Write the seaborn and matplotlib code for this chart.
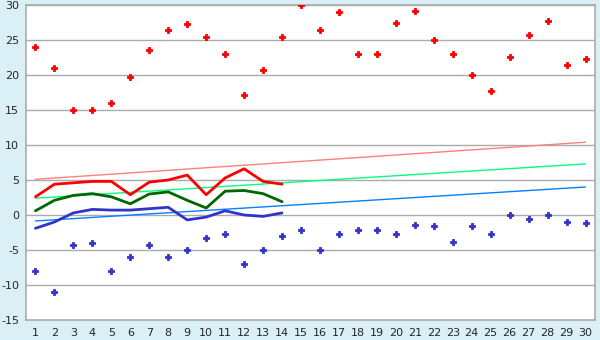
import numpy as np
import pandas as pd
import matplotlib
matplotlib.use("Agg")
import matplotlib.pyplot as plt
import seaborn as sns

days = list(range(1, 31))
max_temp = [24.0, 21.0, 15.0, 15.0, 16.0, 19.7, 23.6, 26.4, 27.3, 25.4,
            23.0, 17.1, 20.7, 25.4, 30.0, 26.5, 29.0, 23.0, 23.0, 27.4,
            29.2, 25.0, 23.0, 20.0, 17.7, 22.6, 25.7, 27.7, 21.4, 22.3]
min_temp = [-8.0, -11.0, -4.3, -4.0, -8.0, -6.0, -4.3, -6.0, -5.0, -3.3,
            -2.7, -7.0, -5.0, -3.0, -2.1, -5.0, -2.7, -2.1, -2.1, -2.7,
            -1.4, -1.6, -3.9, -1.6, -2.7, 0.0, -0.6, 0.0, -1.0, -1.1]
avg_days = list(range(1, 15))
avg_max = [2.6, 4.4, 4.6, 4.8, 4.8, 2.9, 4.7, 5.0, 5.7, 2.9, 5.3, 6.6, 4.8, 4.4]
avg_mean = [0.6, 2.1, 2.8, 3.05, 2.6, 1.6, 3.0, 3.3, 2.1, 1.0, 3.4, 3.5, 3.05, 1.9]
avg_min = [-1.9, -1.0, 0.3, 0.8, 0.7, 0.7, 0.9, 1.1, -0.7, -0.3, 0.6, 0.0, -0.2, 0.3]
trend_days = [1, 30]
trend_max = [5.1, 10.4]
trend_mean = [2.4, 7.3]
trend_min = [-0.85, 4.0]
y_ticks = [-15, -10, -5, 0, 5, 10, 15, 20, 25, 30]

sns.set_style("white")
plt.rcParams['font.family'] = ['DejaVu Sans']
plt.rcParams['axes.unicode_minus'] = False

fig = plt.figure(figsize=(6, 3.4), dpi=100)
fig.patch.set_facecolor('#DAEFF6')
ax = fig.add_axes([26/600, 1-320/340, (595-26)/600, (320-5)/340])
ax.set_facecolor('white')

for y in y_ticks:
    ax.axhline(y, color='#ABABAB', lw=1, zorder=0)

sns.lineplot(x=trend_days, y=trend_max, ax=ax, color='#FF8080', lw=1)
sns.lineplot(x=trend_days, y=trend_mean, ax=ax, color='#00FF80', lw=1)
sns.lineplot(x=trend_days, y=trend_min, ax=ax, color='#0080FF', lw=1)

sns.lineplot(x=avg_days, y=avg_max, ax=ax, color='#FF0000', lw=2)
sns.lineplot(x=avg_days, y=avg_mean, ax=ax, color='#006600', lw=2)
sns.lineplot(x=avg_days, y=avg_min, ax=ax, color='#3333CC', lw=2)

sns.scatterplot(x=days, y=max_temp, ax=ax, color='#FF0000', marker='P', s=20,
                edgecolor='#FF0000', linewidth=0.6, zorder=5)
sns.scatterplot(x=days, y=min_temp, ax=ax, color='#3333CC', marker='P', s=20,
                edgecolor='#3333CC', linewidth=0.6, zorder=5)

ax.set_xlim(0.5, 30.5)
ax.set_ylim(-15, 30)
ax.set_xticks(days)
ax.set_yticks(y_ticks)
ax.tick_params(axis='both', labelsize=8, length=4, width=1, color='black',
               direction='out', pad=2)
ax.tick_params(axis='y', pad=1)
for s in ax.spines.values():
    s.set_color('#ABABAB')
    s.set_linewidth(1.2)
ax.set_xlabel('')
ax.set_ylabel('')

fig.savefig('out.png', dpi=100, facecolor=fig.get_facecolor())
